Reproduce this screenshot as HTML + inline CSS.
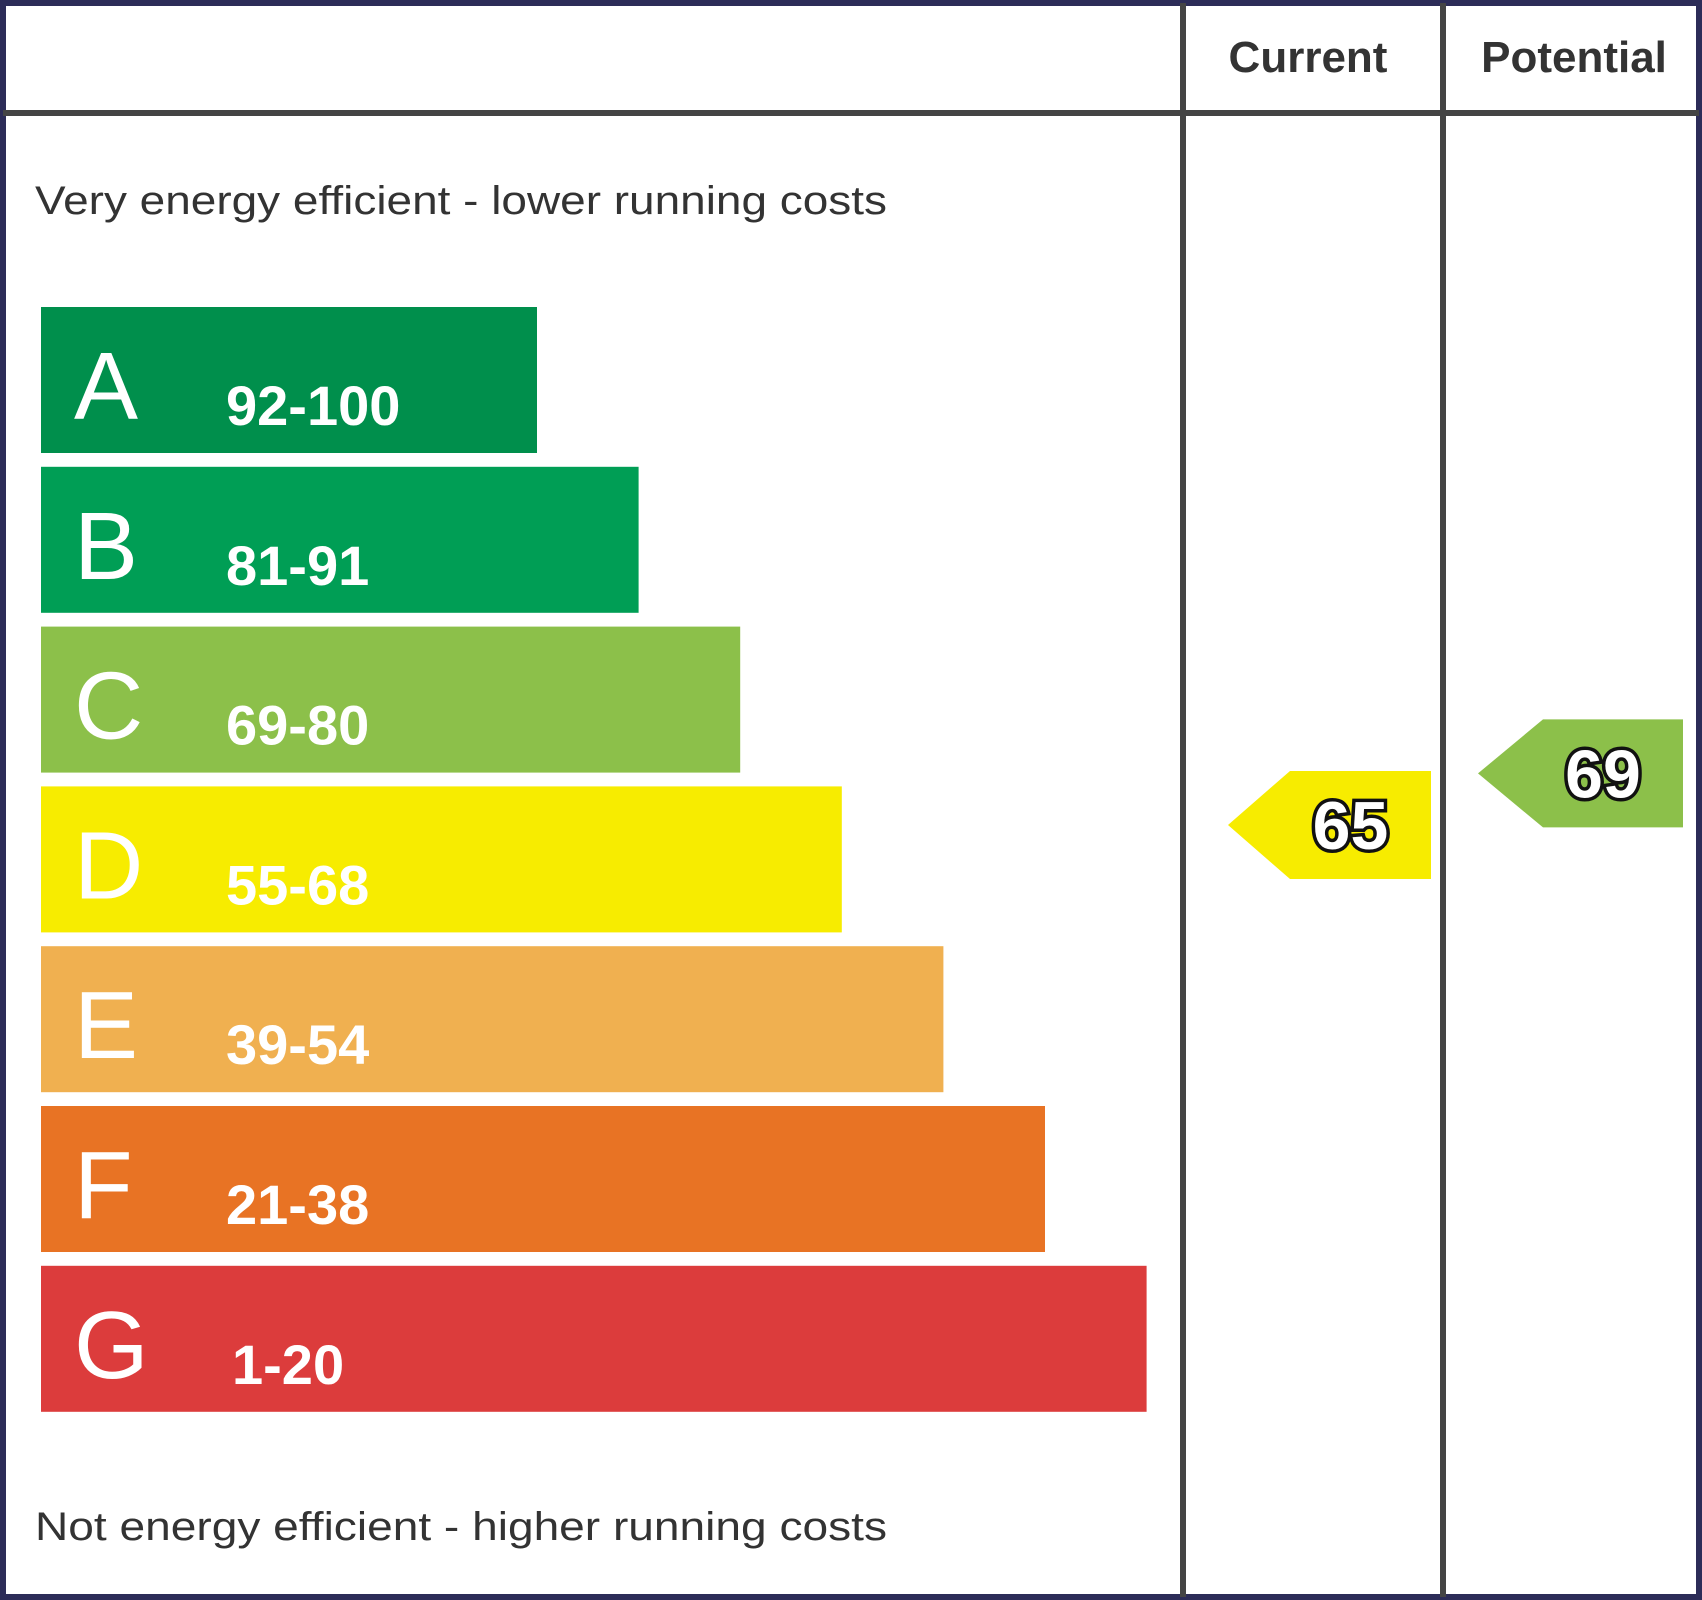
<!DOCTYPE html>
<html><head><meta charset="utf-8"><style>
html,body{margin:0;padding:0;background:#fff;}
svg{display:block;font-family:"Liberation Sans",Arial,sans-serif;}
</style></head><body>
<svg id="chart" width="1702" height="1600" viewBox="0 0 1702 1600">
<rect x="3" y="3" width="1696" height="1594" fill="#fff" stroke="#2c2c58" stroke-width="6"/>
<line x1="3" y1="113" x2="1699" y2="113" stroke="#444" stroke-width="6"/>
<line x1="1183" y1="3" x2="1183" y2="1597" stroke="#444" stroke-width="6"/>
<line x1="1443" y1="3" x2="1443" y2="1597" stroke="#444" stroke-width="6"/>
<text x="1308" y="72" font-size="44" font-weight="bold" fill="#333" text-anchor="middle">Current</text>
<text x="1574" y="72" font-size="44" font-weight="bold" fill="#333" text-anchor="middle">Potential</text>
<text x="35" y="214" font-size="40" fill="#333" textLength="852" lengthAdjust="spacingAndGlyphs">Very energy efficient - lower running costs</text>
<text x="35" y="1540" font-size="40" fill="#333" textLength="852" lengthAdjust="spacingAndGlyphs">Not energy efficient - higher running costs</text>
<g id="bars"></g>
<g id="arrows"></g>
</svg>
<script>
const bandLetters = ['A','B','C','D','E','F','G'];
const bandRanges = ['92-100','81-91','69-80','55-68','39-54','21-38','1-20'];
const bandColors = ['#008f4c','#009e55','#8cc04a','#f7ec00','#f0b050','#e87324','#dc3c3c'];
const currentScore = 65;
const potentialScore = 69;
const currentColor = '#f7ec00';
const potentialColor = '#8cc04a';

const NS = 'http://www.w3.org/2000/svg';
const barsG = document.getElementById('bars');
const arrowsG = document.getElementById('arrows');
function bandY(i){ return 307 + i * 159.8; }
function bandW(i){ return 496 + i * 101.6; }
function scoreY(s){ return 825 - (s - 65) * 12.9; }

bandLetters.forEach((L, i) => {
  const y = bandY(i);
  const r = document.createElementNS(NS, 'rect');
  r.setAttribute('x', 41); r.setAttribute('y', y);
  r.setAttribute('width', bandW(i)); r.setAttribute('height', 146);
  r.setAttribute('fill', bandColors[i]);
  
  
  barsG.appendChild(r);
  const t = document.createElementNS(NS, 'text');
  t.setAttribute('x', 74); t.setAttribute('y', y + 112);
  t.setAttribute('font-size', 96); t.setAttribute('fill', '#fff');
  t.textContent = L;
  
  
  barsG.appendChild(t);
  const t2 = document.createElementNS(NS, 'text');
  t2.setAttribute('x', i === 6 ? 232 : 226); t2.setAttribute('y', y + 118);
  t2.setAttribute('font-size', 56); t2.setAttribute('font-weight', 'bold'); t2.setAttribute('fill', '#fff');
  t2.textContent = bandRanges[i];
  
  
  barsG.appendChild(t2);
});

function arrow(score, color, tipX, bodyX, rightX, name){
  const cy = scoreY(score), h = 108;
  const p = document.createElementNS(NS, 'polygon');
  p.setAttribute('points', `${tipX},${cy} ${bodyX},${cy-h/2} ${rightX},${cy-h/2} ${rightX},${cy+h/2} ${bodyX},${cy+h/2}`);
  p.setAttribute('fill', color);
  
  
  arrowsG.appendChild(p);
  const t = document.createElementNS(NS, 'text');
  t.setAttribute('x', (bodyX + rightX) / 2 - 10); t.setAttribute('y', cy + 24);
  t.setAttribute('font-size', 68); t.setAttribute('font-weight', 'bold');
  t.setAttribute('text-anchor', 'middle'); t.setAttribute('fill', '#fff');
  t.setAttribute('stroke', '#111'); t.setAttribute('stroke-width', 7);
  t.setAttribute('paint-order', 'stroke');
  t.textContent = score;
  
  
  arrowsG.appendChild(t);
}
arrow(currentScore, currentColor, 1228, 1290, 1431, 'current');
arrow(potentialScore, potentialColor, 1478, 1543, 1683, 'potential');
</script>
</body></html>
